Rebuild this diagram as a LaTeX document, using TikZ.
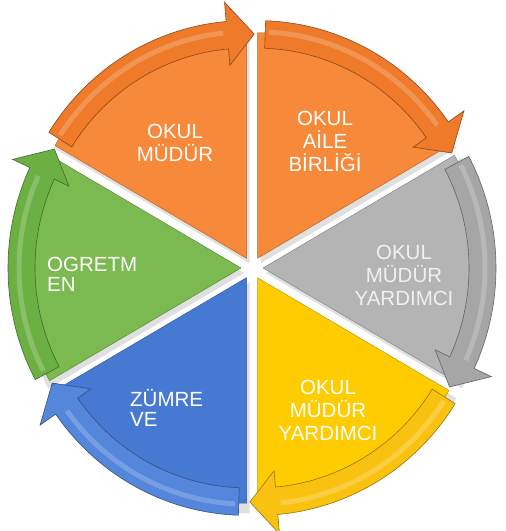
\documentclass[tikz,border=0pt]{standalone}
\usepackage{fontspec}
\setmainfont{Liberation Sans}
\usepackage{xcolor}
\usepackage{tikz}

\definecolor{orangeSlice}{RGB}{247,137,58}
\definecolor{orangeArrow}{RGB}{238,122,42}
\definecolor{graySlice}{RGB}{180,180,180}
\definecolor{grayArrow}{RGB}{166,166,166}
\definecolor{yellowSlice}{RGB}{255,204,0}
\definecolor{yellowArrow}{RGB}{250,194,16}
\definecolor{blueSlice}{RGB}{70,122,210}
\definecolor{blueArrow}{RGB}{84,134,220}
\definecolor{greenSlice}{RGB}{122,186,80}
\definecolor{greenArrow}{RGB}{108,176,68}

\begin{document}
\begin{tikzpicture}[x=1pt,y=1pt]
\useasboundingbox (0,0) rectangle (506,531);
\tikzstyle{lbl}=[text=white,font=\fontsize{20.5}{23}\selectfont,inner sep=0pt,align=center];
\tikzstyle{lblleft}=[lbl,align=left,font=\fontsize{20.5}{20}\selectfont];

\begin{scope}[shift={(252,263)},yscale=1.02]
\foreach \a/\col in {120/orange,60/orange,0/gray,-60/yellow,-120/blue,180/green}{
  \begin{scope}[shift={(\a:11)}]
  \fill[black,opacity=0.12,xshift=3,yshift=-5] (0,0) -- (\a+30:226)
    arc[start angle=\a+30,end angle=\a-30,radius=226] -- cycle;
  \filldraw[fill=\col Slice,draw=\col Slice!75!black,line width=0.5pt] (0,0) -- (\a+30:221)
    arc[start angle=\a+30,end angle=\a-30,radius=221] -- cycle;
  \filldraw[fill=\col Arrow,draw=\col Arrow!60!black,line width=0.6pt]
    (\a+28:233) arc[start angle=\a+28,end angle=\a-25,radius=233]
    -- (\a-25:252) -- (\a-32:220) -- (\a-25:190) -- (\a-25:206)
    arc[start angle=\a-25,end angle=\a+28,radius=206] -- cycle;
  \draw[\col Arrow!55!white,line width=5pt,opacity=0.45] (\a+27:222)
    arc[start angle=\a+27,end angle=\a-24,radius=222];
  \end{scope}
}
\end{scope}

\node[lbl,anchor=north] (mudur) at (175,407) {OKUL\\MÜDÜR};
\node[lbl,anchor=north] (aile) at (325,420) {OKUL\\AİLE\\BİRLİĞİ};
\node[lbl,anchor=north,text=white!94!black] (yard1) at (404,286) {OKUL\\MÜDÜR\\YARDIMCI};
\node[lbl,anchor=north] (yard2) at (328,151) {OKUL\\MÜDÜR\\YARDIMCI};
\node[lblleft,anchor=north west] (zumre) at (130,142) {ZÜMRE\\VE};
\node[lblleft,anchor=north west] (ogretmen) at (47,274) {OGRETM\\EN};
\end{tikzpicture}
\end{document}
